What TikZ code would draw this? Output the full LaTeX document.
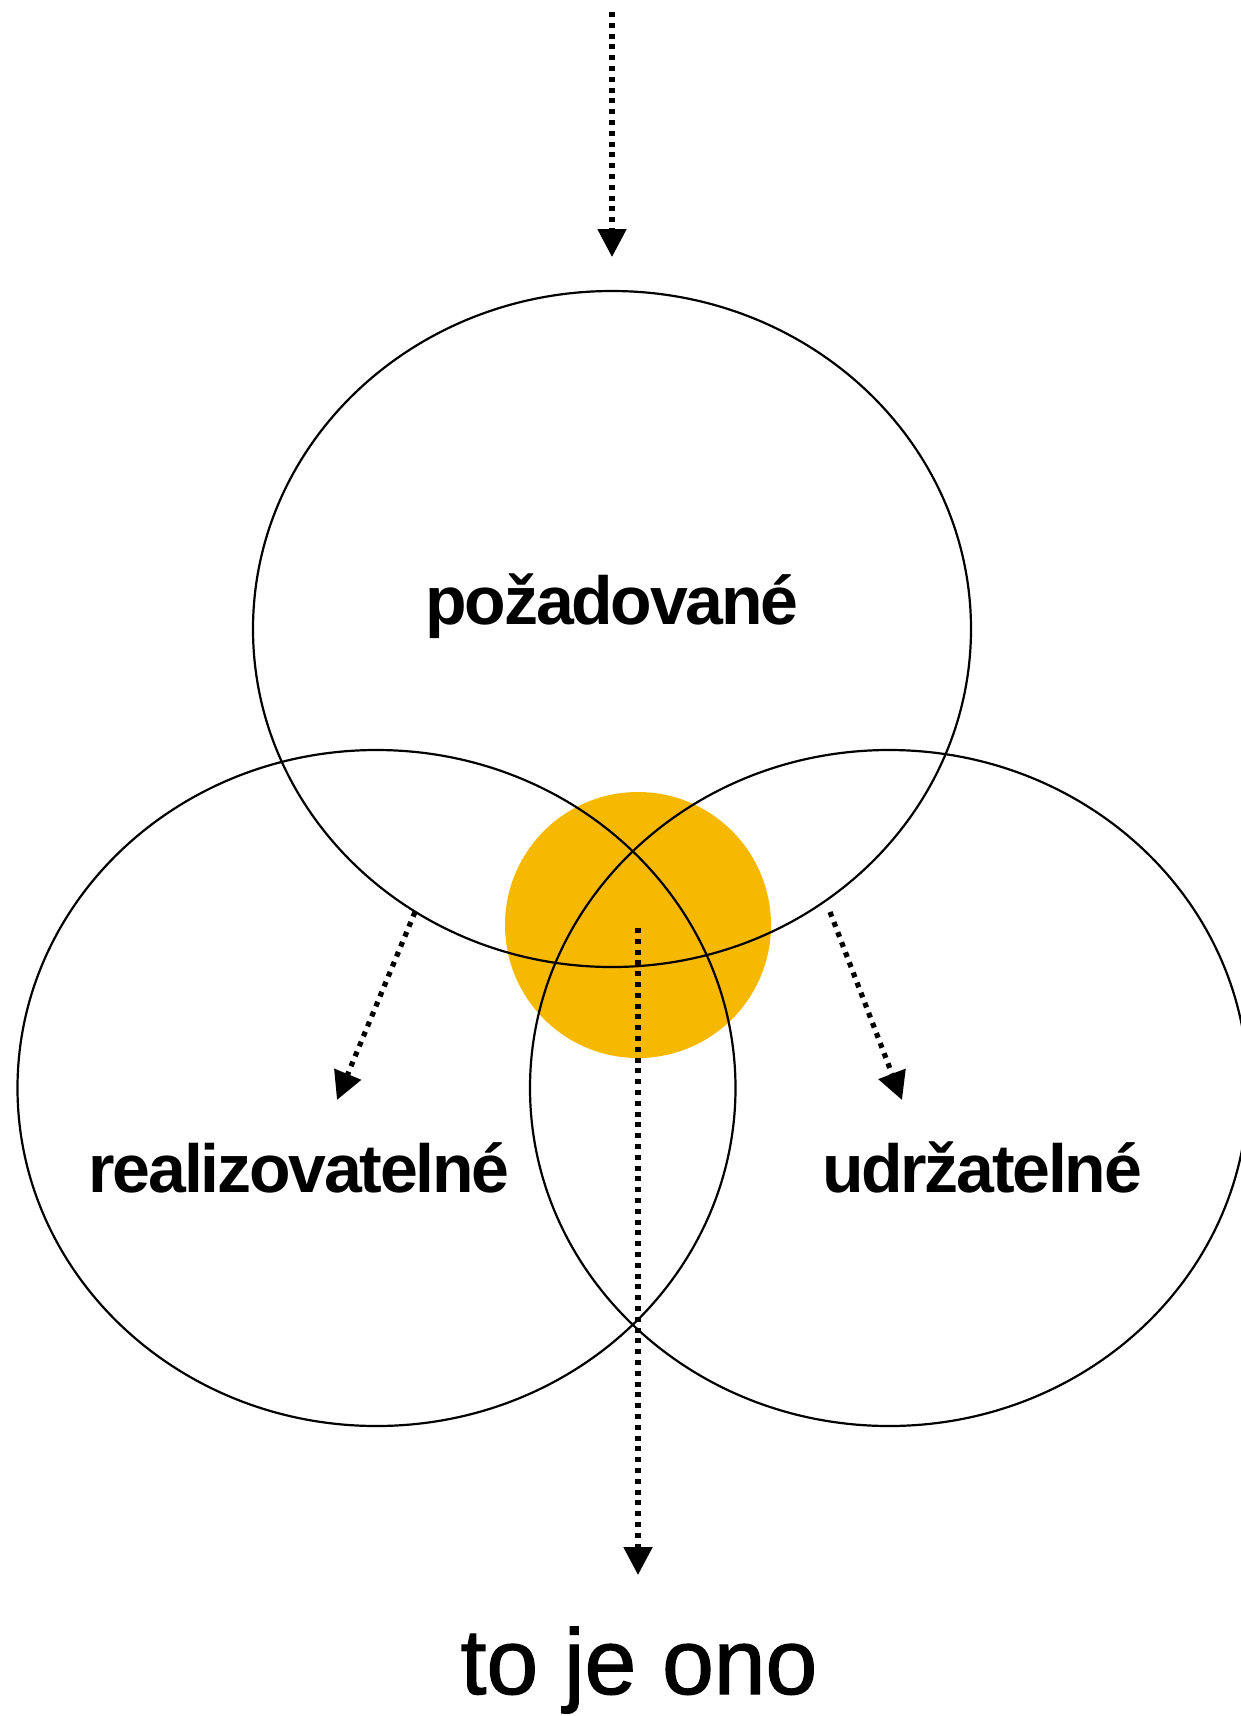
\documentclass[tikz,border=0pt]{standalone}
\usepackage{fontspec}
\setmainfont{Liberation Sans}
\newfontfamily\setfont{Liberation Sans}[LetterSpace=-3.3]
\newfontfamily\resultfont{Liberation Sans}[FakeBold=1.3]
\usetikzlibrary{arrows.meta}
\definecolor{coregold}{HTML}{F6B900}

\begin{document}
\begin{tikzpicture}[x=1pt,y=-1pt,
  venn/.style={line width=2.2pt},
  flow/.style={line width=5.2pt,dash pattern=on 5pt off 5.8pt,-{Triangle[width=28pt,length=28pt]}},
  setlabel/.style={anchor=base,inner sep=0pt,font=\setfont\bfseries\fontsize{68}{76}\selectfont}]
  \clip (0,0) rectangle (1241,1716);
  % common core
  \fill[coregold] (638,925) circle[radius=133];
  % the three sets
  \draw[venn] (612,629) ellipse[x radius=359,y radius=338];
  \draw[venn] (376.5,1088) ellipse[x radius=359,y radius=338];
  \draw[venn] (889,1088) ellipse[x radius=359,y radius=338];
  \node[setlabel] (wanted) at (612,624) {požadované};
  \node[setlabel] (feasible) at (299,1192) {realizovatelné};
  \node[setlabel] (lasting) at (982,1192) {udržatelné};
  \node[anchor=base,inner sep=0pt,font=\resultfont\fontsize{93}{100}\selectfont] (result) at (639,1694) {to je ono};
  % dotted arrows
  \coordinate (inStart) at (612,12);
  \coordinate (inEnd) at (612,257);
  \coordinate (leftStart) at (415,912);
  \coordinate (leftEnd) at (337,1100);
  \coordinate (rightStart) at (830,912);
  \coordinate (rightEnd) at (902,1100);
  \coordinate (coreStart) at (638,928);
  \coordinate (coreEnd) at (638,1575);
  \draw[flow] (inStart) -- (inEnd);
  \draw[flow] (leftStart) -- (leftEnd);
  \draw[flow] (rightStart) -- (rightEnd);
  \draw[flow] (coreStart) -- (coreEnd);
\end{tikzpicture}
\end{document}
